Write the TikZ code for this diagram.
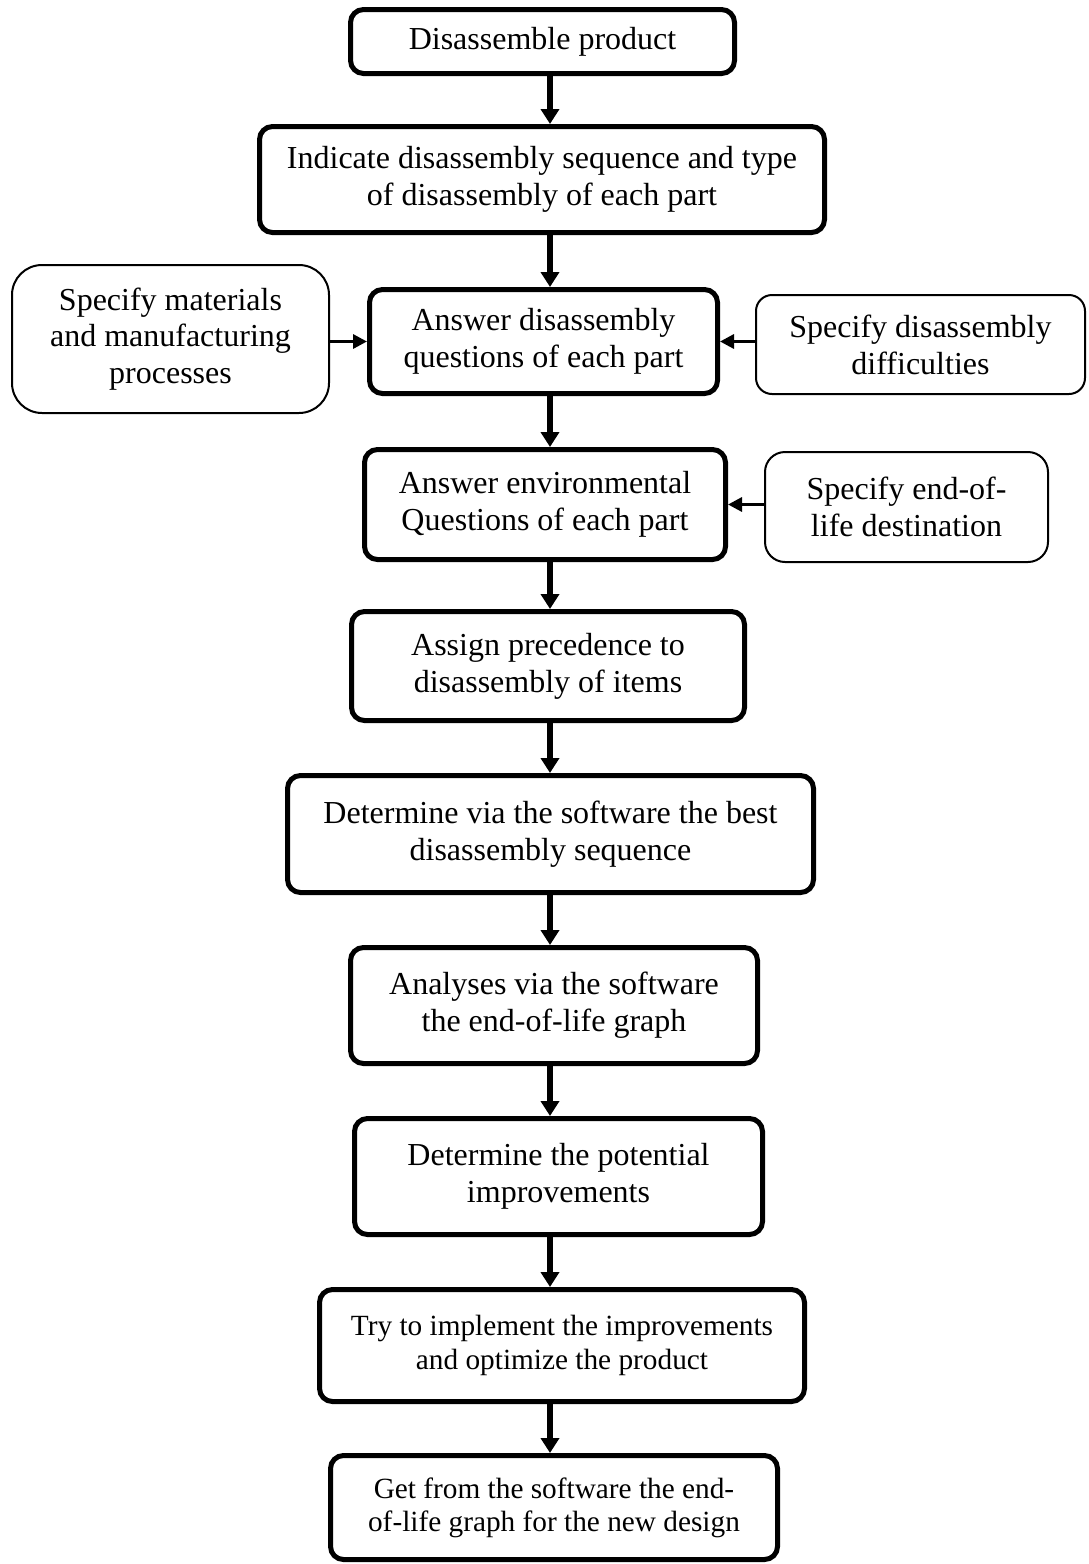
\documentclass[tikz,border=0pt]{standalone}
\usepackage{fontspec}
\setmainfont{Liberation Serif}
\usetikzlibrary{arrows.meta}

\begin{document}
\begin{tikzpicture}[x=0.5pt,y=-0.5pt,
		stepbox/.style={draw, line width=2.5pt, rounded corners=6.5pt, align=center, inner sep=0pt, font=\fontsize{16}{18.4}\selectfont},
		sidebox/.style={draw, line width=1pt, rounded corners=9pt, align=center, inner sep=0pt, font=\fontsize{16}{18.4}\selectfont},
		smalltext/.style={font=\fontsize{14.65}{16.6}\selectfont},
		flow/.style={-{Triangle[length=7.5pt,width=9pt]}, line width=2.7pt},
		feed/.style={-{Triangle[length=7pt,width=7pt]}, line width=1.6pt}]
		\useasboundingbox (0,0) rectangle (1088,1564);
		% main column
			\node[stepbox, minimum width=192pt, minimum height=32pt] (disasm) at (542.5,41.5) {Disassemble product};
			\node[stepbox, minimum width=282.5pt, minimum height=53pt] (sequence) at (542,179.5) {Indicate disassembly sequence and type\\of disassembly of each part};
			\node[stepbox, minimum width=174pt, minimum height=52pt] (questions) at (543.5,341.5) {Answer disassembly\\questions of each part};
			\node[stepbox, minimum width=180.5pt, minimum height=55pt] (environ) at (545,504.5) {Answer environmental\\Questions of each part};
			\node[stepbox, minimum width=196.5pt, minimum height=54.5pt] (precede) at (548,666) {Assign precedence to\\disassembly of items};
			\node[stepbox, minimum width=263pt, minimum height=58.5pt] (bestseq) at (550.5,834) {Determine via the software the best\\disassembly sequence};
			\node[stepbox, minimum width=203.5pt, minimum height=58pt] (analyse) at (554,1005.5) {Analyses via the software\\the end-of-life graph};
			\node[stepbox, minimum width=204pt, minimum height=58pt] (improve) at (558.5,1176.5) {Determine the potential\\improvements};
			\node[stepbox, smalltext, minimum width=242.5pt, minimum height=56pt] (implement) at (562,1345.5) {Try to implement the improvements\\and optimize the product};
			\node[stepbox, smalltext, minimum width=223.5pt, minimum height=52pt] (newgraph) at (554,1507.5) {Get from the software the end-\\of-life graph for the new design};
		% side inputs
			\node[sidebox, rounded corners=15pt, minimum width=158.5pt, minimum height=74pt] (materials) at (170.5,339) {Specify materials\\and manufacturing\\processes};
			\node[sidebox, rounded corners=8pt, minimum width=164.5pt, minimum height=49.5pt] (difficult) at (920.5,344.5) {Specify disassembly\\difficulties};
			\node[sidebox, rounded corners=10pt, minimum width=141.5pt, minimum height=55pt] (destination) at (906.5,507) {Specify end-of-\\life destination};
		% flow down the column
			\coordinate (axis) at (550,0);
			\foreach \a/\b in {disasm/sequence,sequence/questions,questions/environ,environ/precede,precede/bestseq,bestseq/analyse,analyse/improve,improve/implement,implement/newgraph}{
				\draw[flow] (\a.south -| axis) -- (\b.north -| axis);
				}
		% inputs from the sides
			\draw[feed] (materials.east |- questions.west) -- (questions.west);
			\draw[feed] (difficult.west |- questions.east) -- (questions.east);
			\draw[feed] (destination.west |- environ.east) -- (environ.east);
	\end{tikzpicture}
\end{document}
